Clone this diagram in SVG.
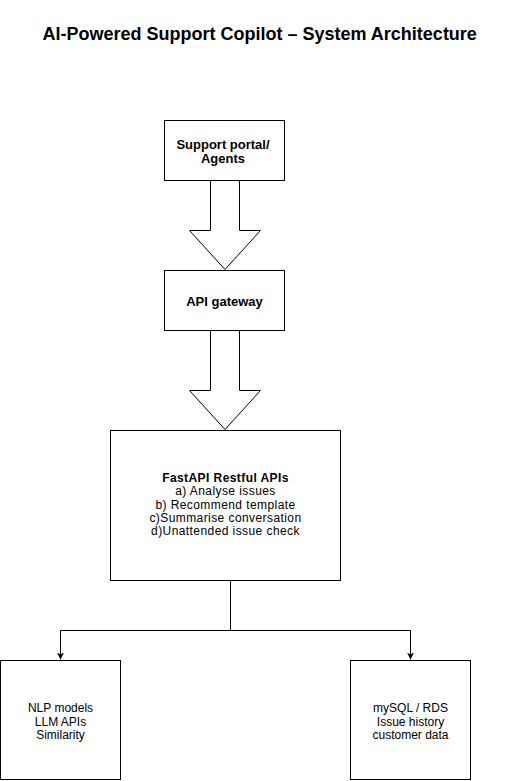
<svg xmlns="http://www.w3.org/2000/svg" width="511" height="781" viewBox="0 0 511 781">
<style>
.box{fill:#fff;stroke:#000;stroke-width:1}
.t{font-family:"Liberation Sans",Arial,sans-serif;font-size:13px;fill:#000;text-anchor:middle}
.s{font-size:12px}
.f{font-size:12px;letter-spacing:0.42px}
.b{font-weight:bold}
.title{font-family:"Liberation Sans",Arial,sans-serif;font-size:18px;font-weight:bold;fill:#000;text-anchor:middle}
.line{fill:none;stroke:#000;stroke-width:1}
.big{fill:#fff;stroke:#000;stroke-width:1}
</style>
<defs>
<marker id="ah" viewBox="0 0 10 10" refX="10" refY="5" markerWidth="7" markerHeight="7" orient="auto" markerUnits="userSpaceOnUse">
<path d="M0,0 L10,5 L0,10 L3,5 Z" fill="#000"/>
</marker>
</defs>
<rect width="511" height="781" fill="#fff"/>
<text class="title" x="259.7" y="40">AI-Powered Support Copilot – System Architecture</text>
<g id="connectors">
<polygon class="big" points="210.5,180.5 239.5,180.5 239.5,230.5 260.5,230.5 225,269.5 189.5,230.5 210.5,230.5"/>
<polygon class="big" points="210.5,330.5 239.5,330.5 239.5,390.5 260.5,390.5 225,429.5 189.5,390.5 210.5,390.5"/>
<path class="line" d="M230.5,580.5 V630.5"/>
<path class="line" d="M60.5,630.5 H410.5"/>
<path class="line" d="M60.5,630.5 V659.5" marker-end="url(#ah)"/>
<path class="line" d="M410.5,630.5 V659.5" marker-end="url(#ah)"/>
</g>
<g id="portal">
<rect class="box" x="164.5" y="120.5" width="120" height="60"/>
<text class="t b" x="223" y="149">Support portal/</text>
<text class="t b" x="223" y="163">Agents</text>
</g>
<g id="gateway">
<rect class="box" x="164.5" y="270.5" width="120" height="60"/>
<text class="t b" x="224.5" y="305.5">API gateway</text>
</g>
<g id="fastapi">
<rect class="box" x="110.5" y="430.5" width="230" height="150"/>
<text class="t f b" x="225.5" y="482.3">FastAPI Restful APIs</text>
<text class="t f" x="225.5" y="495.4">a) Analyse issues</text>
<text class="t f" x="225.5" y="508.5">b) Recommend template</text>
<text class="t f" x="225.5" y="521.6">c)Summarise conversation</text>
<text class="t f" x="225.5" y="534.7">d)Unattended issue check</text>
</g>
<g id="nlp">
<rect class="box" x="0.5" y="660.5" width="120" height="119"/>
<text class="t s" x="60.5" y="711.5">NLP models</text>
<text class="t s" x="60.5" y="725.5">LLM APIs</text>
<text class="t s" x="60.5" y="739">Similarity</text>
</g>
<g id="db">
<rect class="box" x="350.5" y="660.5" width="120" height="119"/>
<text class="t s" x="410.5" y="711.5">mySQL / RDS</text>
<text class="t s" x="410.5" y="725.5">Issue history</text>
<text class="t s" x="410.5" y="739">customer data</text>
</g>
</svg>
